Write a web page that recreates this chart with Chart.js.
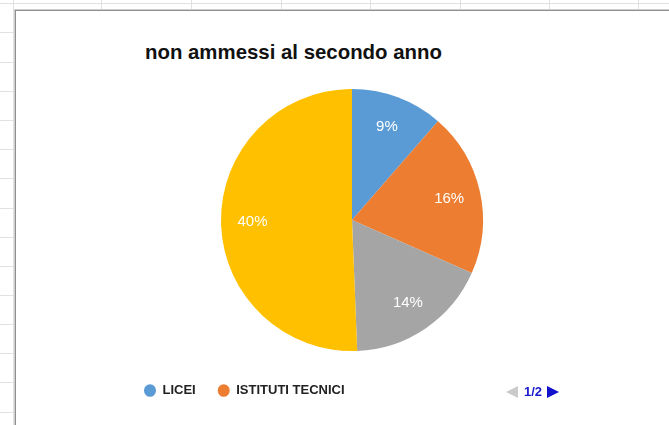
<!DOCTYPE html>
<html>
<head>
<meta charset="utf-8">
<script src="https://cdn.jsdelivr.net/npm/chart.js@4"></script>
<style>
  html, body { margin: 0; padding: 0; background: #fff; overflow: hidden; }
  body { width: 669px; height: 425px; position: relative; font-family: Arial, "Liberation Sans", sans-serif; }
  .gl { position: absolute; background: #e1e1e1; }
  #box { position: absolute; left: 15px; top: 10px; width: 700px; height: 450px; background: #fff;
         border-left: 1px solid #8f8f8f; border-top: 1px solid #8f8f8f; box-shadow: -1px -1px 0 #cfcfcf; }
  #title { position: absolute; left: 145px; top: 41px; font: bold 20.4px Arial, "Liberation Sans", sans-serif; color: #111; white-space: nowrap; }
  #wrap { position: absolute; left: 0; top: 0; width: 669px; height: 425px; }
  #pager { position: absolute; left: 506px; top: 382px; height: 14px; white-space: nowrap; }
  #pager span { display: inline-block; vertical-align: middle; }
  .prev { width: 0; height: 0; border-top: 6px solid transparent; border-bottom: 6px solid transparent; border-right: 12px solid #cacaca; }
  .next { width: 0; height: 0; border-top: 6px solid transparent; border-bottom: 6px solid transparent; border-left: 12px solid #1212cc; }
  .page { font: bold 13px Arial, "Liberation Sans", sans-serif; color: #1a1acc; margin: 0 5px 0 6px; }
</style>
</head>
<body>
<div id="grid"></div>
<div id="box"></div>
<div id="title">non ammessi al secondo anno</div>
<div id="wrap"><canvas id="chart"></canvas></div>
<div id="pager"><span class="prev"></span><span class="page">1/2</span><span class="next"></span></div>
<script>
var categories = ['LICEI', 'ISTITUTI TECNICI', 'ISTITUTI PROFESSIONALI', 'FORMAZIONE PROFESSIONALE'];
var values = [9, 16, 14, 40];
var sliceColors = ['#5b9bd5', '#ed7d31', '#a5a5a5', '#ffc000'];
var legendShown = 2; // page 1 of 2

// spreadsheet grid behind the chart box
(function() {
  var grid = document.getElementById('grid');
  var html = '<div class="gl" style="left:0;top:3px;width:669px;height:1px;"></div>';
  html += '<div class="gl" style="left:13px;top:0;width:1px;height:425px;"></div>';
  [101, 191, 281, 370, 460, 549, 638].forEach(function(x) {
    html += '<div class="gl" style="left:' + x + 'px;top:0;width:1px;height:10px;"></div>';
  });
  [32, 62, 91, 120, 149, 178, 208, 237, 266, 295, 324, 353, 382, 412].forEach(function(y) {
    html += '<div class="gl" style="left:0;top:' + y + 'px;width:13px;height:1px;"></div>';
  });
  grid.innerHTML = html;
})();

var sliceLabels = {
  id: 'sliceLabels',
  afterDatasetsDraw: function(chart) {
    var ctx = chart.ctx;
    var meta = chart.getDatasetMeta(0);
    ctx.save();
    ctx.fillStyle = '#ffffff';
    ctx.font = '15px Arial, "Liberation Sans", sans-serif';
    ctx.textAlign = 'center';
    ctx.textBaseline = 'middle';
    meta.data.forEach(function(arc, i) {
      var p = arc.getProps(['x', 'y', 'startAngle', 'endAngle', 'outerRadius'], true);
      var mid = (p.startAngle + p.endAngle) / 2;
      var r = p.outerRadius * 0.76;
      ctx.fillText(values[i] + '%', p.x + Math.cos(mid) * r, p.y + Math.sin(mid) * r);
    });
    ctx.restore();
  }
};

new Chart(document.getElementById('chart'), {
  type: 'pie',
  data: {
    labels: categories,
    datasets: [{ data: values, backgroundColor: sliceColors, borderWidth: 0, radius: 131 }]
  },
  options: {
    responsive: true,
    maintainAspectRatio: false,
    animation: false,
    layout: { padding: { left: 122, right: 87, top: 78, bottom: 18 } },
    plugins: {
      title: { display: false },
      tooltip: { enabled: false },
      legend: {
        position: 'bottom',
        align: 'start',
        labels: {
          usePointStyle: true,
          pointStyle: 'circle',
          pointStyleWidth: 12,
          boxHeight: 9,
          padding: 22,
          color: '#222',
          font: { family: 'Arial, "Liberation Sans", sans-serif', size: 13, weight: 'bold' },
          filter: function(item) { return item.index < legendShown; }
        }
      }
    }
  },
  plugins: [sliceLabels]
});
</script>
</body>
</html>
